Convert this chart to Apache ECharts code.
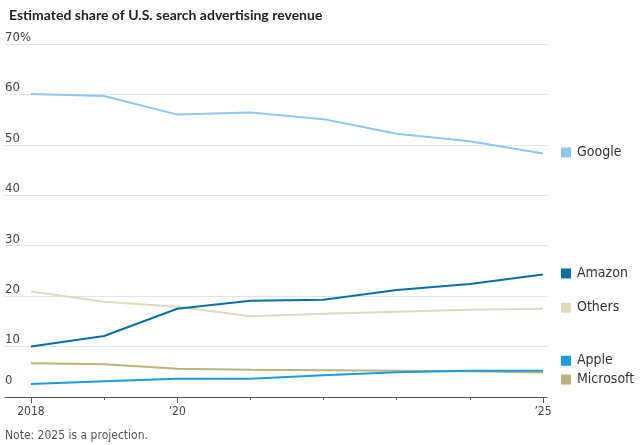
<!DOCTYPE html>
<html>
<head>
<meta charset="utf-8">
<script src="https://cdn.jsdelivr.net/npm/echarts@6/dist/echarts.min.js"></script>
<style>
html,body{margin:0;padding:0;background:#fff;}
#c{width:640px;height:445px;}
</style>
</head>
<body>
<div id="c"></div>
<script>
const years = [2018, 2019, 2020, 2021, 2022, 2023, 2024, 2025];
const google = [60.1, 59.7, 56.0, 56.4, 55.1, 52.2, 50.7, 48.3];
const amazon = [10.0, 12.1, 17.5, 19.1, 19.3, 21.2, 22.4, 24.3];
const others = [20.9, 18.9, 17.9, 16.0, 16.5, 16.9, 17.3, 17.5];
const apple = [2.6, 3.1, 3.6, 3.6, 4.3, 4.9, 5.2, 5.2];
const microsoft = [6.7, 6.5, 5.6, 5.4, 5.3, 5.2, 5.1, 4.85];
const yTicks = [0, 10, 20, 30, 40, 50, 60, 70];
const xLabelYears = [2018, 2020, 2025];

const FONT = '"DejaVu Sans Condensed","Roboto",sans-serif';
const TFONT = 'Lato,"DejaVu Sans Condensed",sans-serif';

function pairs(arr){ return years.map((y,i)=>[y, arr[i]]); }
function mkSeries(name, data, color, dy, z){
  return {
    name, type:'line', data: pairs(data), symbol:'none', z: z,
    lineStyle:{color, width:2}, itemStyle:{color},
    emphasis:{disabled:true},
    endLabel:{
      show:true, distance:18, offset:[0,dy],
      formatter: '{sq|}{n|' + name + '}',
      rich:{
        sq:{width:10,height:10,backgroundColor:color},
        n:{fontFamily:FONT,fontSize:14,color:'#333',padding:[0,0,0,6]}
      }
    }
  };
}

const chart = echarts.init(document.getElementById('c'), null, {renderer:'canvas'});
chart.setOption({
  animation:false,
  title:{
    text:'Estimated share of U.S. search advertising revenue',
    left:4, top:3,
    textStyle:{fontFamily:TFONT, fontSize:14, fontWeight:'bold', color:'#222'}
  },
  graphic:[{
    type:'text', left:5, top:430,
    style:{text:'Note: 2025 is a projection.', font:"12px 'DejaVu Sans Condensed', sans-serif", fill:'#555'}
  }],
  grid:{left:5, right:93, top:44, bottom:48},
  xAxis:[{
    type:'value', min:2017.645, max:2025.055,
    axisLine:{show:true, lineStyle:{color:'#555', width:1}},
    axisTick:{show:true, length:3, lineStyle:{color:'#555'}, customValues: years},
    axisLabel:{show:true, customValues: xLabelYears, fontFamily:FONT, fontSize:12, color:'#444', margin:9,
      formatter: v => v === 2018 ? '2018' : '\u2019' + String(v).slice(2)},
    splitLine:{show:false}
  },{
    type:'value', min:2017.645, max:2025.055, position:'bottom',
    axisLine:{show:false},
    axisTick:{show:true, length:6, lineStyle:{color:'#555'}, customValues: xLabelYears},
    axisLabel:{show:false}, splitLine:{show:false}
  }],
  yAxis:{
    type:'value', min:0, max:70, interval:10,
    axisLine:{show:false}, axisTick:{show:false},
    splitLine:{show:true, lineStyle:{color:'#e4e4e4', width:1}},
    axisLabel:{
      inside:false, margin:0, align:'left', verticalAlign:'bottom',
      fontFamily:FONT, fontSize:13, color:'#444',
      formatter: v => v === 70 ? '70%' : (v === 0 ? '{z|0}' : String(v)),
      rich:{z:{fontFamily:FONT, fontSize:13, color:'#444', padding:[0,0,10,0]}}
    }
  },
  series:[
    mkSeries('Others', others, '#ddd9bb', -1, 2),
    mkSeries('Microsoft', microsoft, '#bab37c', 7, 3),
    mkSeries('Google', google, '#8fc7ee', -1, 4),
    mkSeries('Apple', apple, '#1b9be0', -10, 5),
    mkSeries('Amazon', amazon, '#0b6fa6', -1, 6)
  ]
});
</script>
</body>
</html>
